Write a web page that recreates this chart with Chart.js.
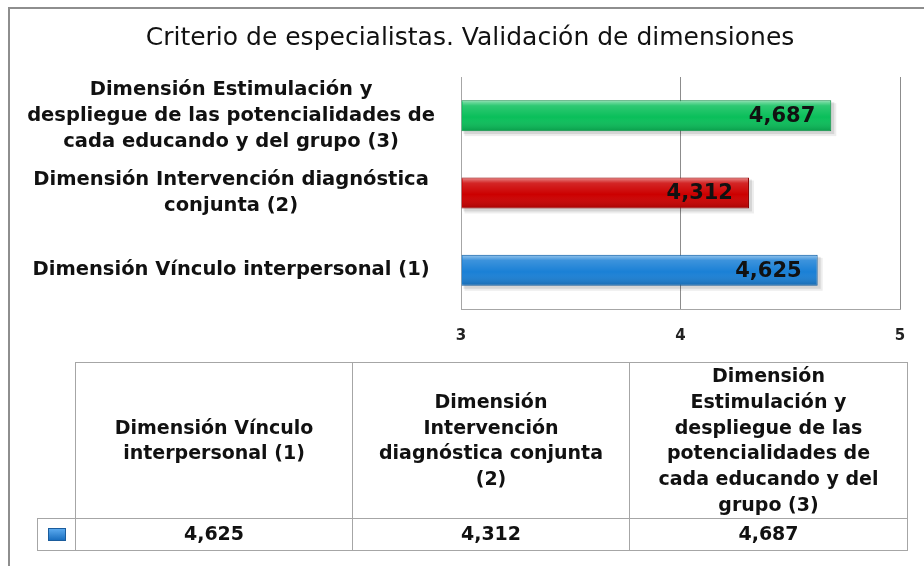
<!DOCTYPE html>
<html>
<head>
<meta charset="utf-8">
<script src="https://cdn.jsdelivr.net/npm/chart.js@4/dist/chart.umd.min.js"></script>
<style>
  html, body { margin: 0; padding: 0; background: #fff; overflow: hidden; }
  #wrap { position: relative; width: 924px; height: 566px; overflow: hidden; background: #fff; }
  #moldura { position: absolute; left: 8px; top: 7px; width: 1000px; height: 1000px; border: 2px solid #8e8e8e; }
  #caixa { position: absolute; left: 0; top: 0; width: 924px; height: 363px; }
  #tabela { position: absolute; left: 37px; top: 362px; border-collapse: collapse; table-layout: fixed;
            font: bold 19px "DejaVu Sans", sans-serif; color: #111; }
  #tabela td { border: 1px solid #a6a6a6; text-align: center; vertical-align: middle; padding: 0; line-height: 25.8px; }
  #tabela td.vazio { border: none; }
  #tabela tr.cab td { height: 153px; }
  #tabela tr.val td { height: 31px; }
  .chave { display: inline-block; width: 16px; height: 11px; vertical-align: middle;
           background: linear-gradient(#5aa9ee, #1a6fc0); border: 1px solid #1b5c9c; }
</style>
</head>
<body>
<div id="wrap">
  <div id="moldura"></div>
  <div id="caixa"><canvas id="myChart"></canvas></div>
  <table id="tabela">
    <colgroup><col style="width:38px"><col style="width:277px"><col style="width:277px"><col style="width:278px"></colgroup>
    <tr class="cab"><td class="vazio"></td></tr>
    <tr class="val"><td><span class="chave"></span></td></tr>
  </table>
</div>
<script>
// dados do grafico (ordem 1, 2, 3)
const nomesEixo = [
  ['Dimensión Vínculo interpersonal (1)'],
  ['Dimensión Intervención diagnóstica', 'conjunta (2)'],
  ['Dimensión Estimulación y', 'despliegue de las potencialidades de', 'cada educando y del grupo (3)']
]
const nomesTabela = [
  ['Dimensión Vínculo', 'interpersonal (1)'],
  ['Dimensión', 'Intervención', 'diagnóstica conjunta', '(2)'],
  ['Dimensión', 'Estimulación y', 'despliegue de las', 'potencialidades de', 'cada educando y del', 'grupo (3)']
]
const valores = [4.625, 4.312, 4.687]
const coresBarra = ['#1a80d6', '#cc0000', '#0abf5a']
const coresBorda = ['#125d9e', '#8a0000', '#08873f']
const ticksX = [3, 4, 5]

const fmt = v => v.toFixed(3).replace('.', ',')

// tabela de dados embaixo
const linhas = document.querySelectorAll('#tabela tr')
nomesTabela.forEach((n, i) => {
  const td = document.createElement('td')
  td.innerHTML = n.join('<br>')
  linhas[0].appendChild(td)
  const tv = document.createElement('td')
  tv.textContent = fmt(valores[i])
  linhas[1].appendChild(tv)
})

// sombra, brilho nas barras e rotulos de valor
const efeitoBarras = {
  id: 'efeitoBarras',
  afterLayout(chart) {
    // empurra o titulo um pouco p/ direita (eixo y ocupa a margem esquerda)
    chart.titleBlock.left += 20
  },
  beforeDatasetsDraw(chart) {
    const ctx = chart.ctx
    const meta = chart.getDatasetMeta(0)
    ctx.save()
    meta.data.forEach(bar => {
      const p = bar.getProps(['x', 'y', 'base', 'height'], true)
      const top = p.y - p.height / 2
      ctx.fillStyle = 'rgba(0,0,0,0.10)'
      ctx.fillRect(p.base + 2, top + 2, p.x - p.base + 1, p.height + 1)
      ctx.fillStyle = 'rgba(0,0,0,0.07)'
      ctx.fillRect(p.base + 3, top + 3, p.x - p.base + 2, p.height + 2)
    })
    ctx.restore()
  },
  afterDatasetsDraw(chart) {
    const ctx = chart.ctx
    const meta = chart.getDatasetMeta(0)
    meta.data.forEach((bar, i) => {
      const p = bar.getProps(['x', 'y', 'base', 'height'], true)
      const top = p.y - p.height / 2
      const g = ctx.createLinearGradient(0, top, 0, top + p.height)
      g.addColorStop(0, 'rgba(255,255,255,0.55)')
      g.addColorStop(0.18, 'rgba(255,255,255,0.15)')
      g.addColorStop(0.55, 'rgba(255,255,255,0)')
      g.addColorStop(1, 'rgba(0,0,0,0.18)')
      ctx.save()
      ctx.fillStyle = g
      ctx.fillRect(p.base + 1, top + 1, p.x - p.base - 2, p.height - 2)
      ctx.fillStyle = '#111'
      ctx.font = 'bold 21px "DejaVu Sans"'
      ctx.textAlign = 'right'
      ctx.textBaseline = 'middle'
      ctx.fillText(fmt(valores[i]), p.x - 16, p.y + 1)
      ctx.restore()
    })
  }
}

const ctx = document.getElementById('myChart')

new Chart(ctx, {
  type: 'bar',
  data: {
    labels: nomesEixo,
    datasets: [{
      data: valores,
      base: ticksX[0],
      backgroundColor: coresBarra,
      borderColor: coresBorda,
      borderWidth: 1,
      barPercentage: 0.8,
      categoryPercentage: 0.5
    }]
  },
  options: {
    indexAxis: 'y',
    responsive: true,
    maintainAspectRatio: false,
    animation: false,
    layout: { padding: { left: 20, right: 24, top: 0, bottom: 0 } },
    plugins: {
      legend: { display: false },
      tooltip: { enabled: false },
      title: {
        display: true,
        text: 'Criterio de especialistas. Validación de dimensiones',
        color: '#111',
        font: { family: 'DejaVu Sans', size: 25, weight: 'normal', lineHeight: 1.2 },
        padding: { top: 23, bottom: 24 }
      }
    },
    scales: {
      x: {
        min: ticksX[0],
        max: ticksX[ticksX.length - 1],
        afterBuildTicks: s => { s.ticks = ticksX.map(v => ({ value: v })) },
        grid: { color: '#8c8c8c', drawTicks: false },
        border: { color: '#a6a6a6' },
        ticks: {
          color: '#222',
          padding: 18,
          font: { family: 'DejaVu Sans', size: 15, weight: 'bold', lineHeight: 1.2 }
        }
      },
      y: {
        reverse: true,
        afterFit: s => { s.width = 461 - 20 },
        grid: { display: false, drawTicks: false },
        border: { color: '#a6a6a6' },
        ticks: {
          color: '#111',
          autoSkip: false,
          crossAlign: 'center',
          padding: 26,
          font: { family: 'DejaVu Sans', size: 19.5, weight: 'bold', lineHeight: 1.33 }
        }
      }
    }
  },
  plugins: [efeitoBarras]
})
</script>
</body>
</html>
